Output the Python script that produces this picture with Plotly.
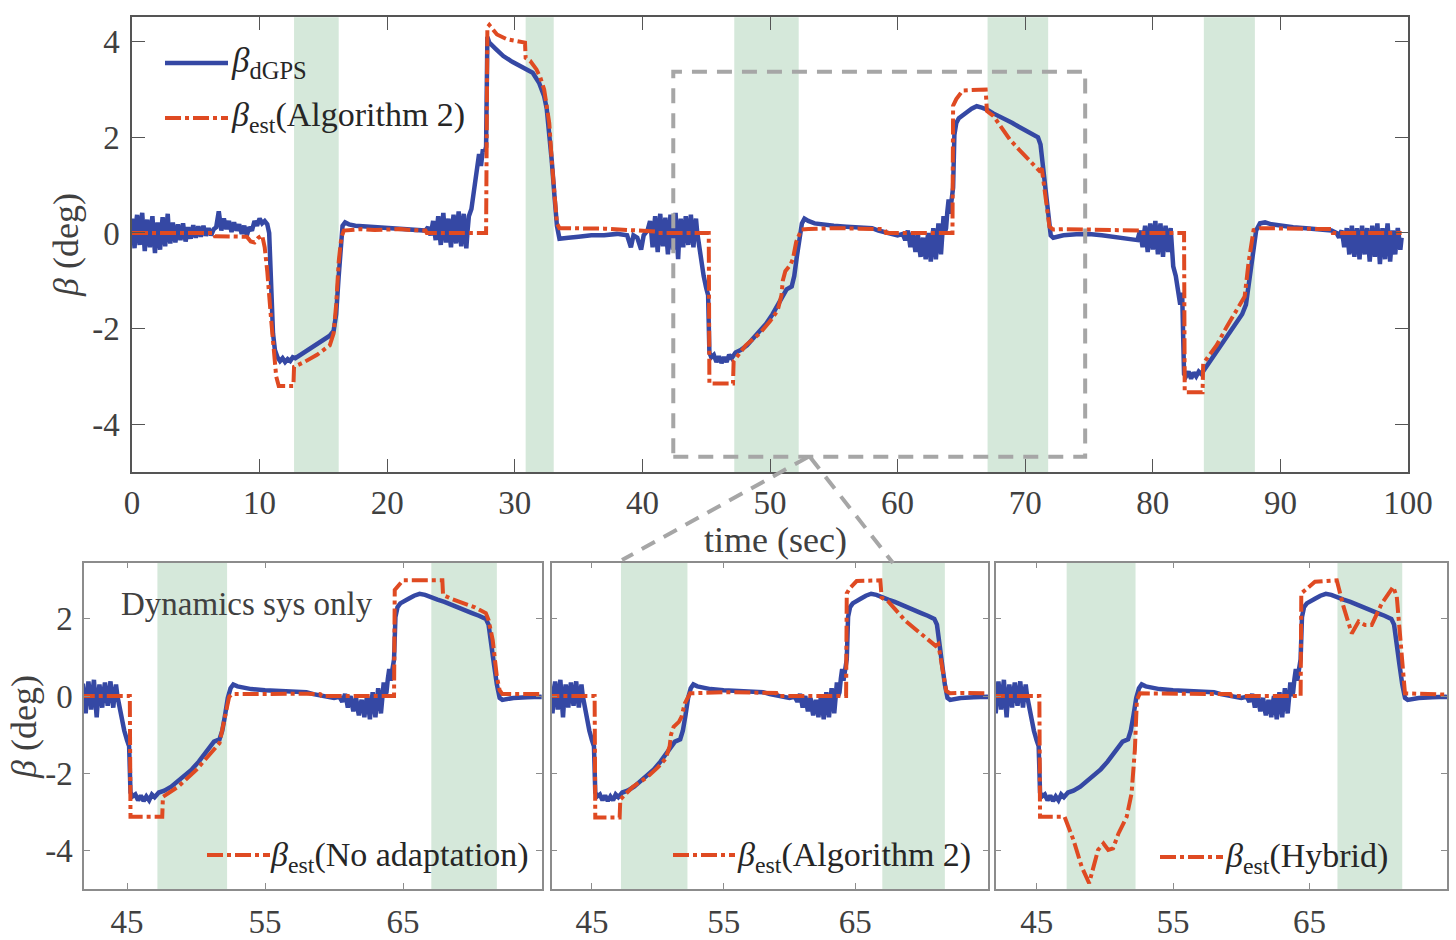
import plotly.graph_objects as go

# ---------------- data ----------------
# side-slip angle from dGPS (time [s], beta [deg])
beta_dgps = [
    (0.0, 0.30), (0.1, -0.12), (0.2, -0.32), (0.3, 0.15), (0.4, 0.38), (0.5, -0.05), (0.6, -0.25), (0.7, 0.2),
    (0.8, 0.42), (0.9, 0.0), (1.0, -0.38), (1.1, 0.05), (1.2, 0.28), (1.3, -0.1), (1.4, -0.30), (1.5, 0.1),
    (1.6, 0.35), (1.7, -0.05), (1.8, -0.42), (1.9, 0.0), (2.0, 0.22), (2.1, -0.1), (2.2, -0.35), (2.3, 0.05),
    (2.4, 0.33), (2.5, 0.0), (2.6, -0.28), (2.7, 0.1), (2.8, 0.40), (2.9, -0.05), (3.0, -0.22),
    (3.2, 0.22), (3.4, -0.20), (3.6, 0.18), (3.8, -0.15), (4.0, 0.20), (4.2, -0.18), (4.4, 0.12), (4.6, -0.12),
    (4.8, 0.16), (5.0, -0.10), (5.2, 0.14), (5.4, -0.08), (5.6, 0.15), (5.8, -0.06), (6.0, 0.10), (6.2, -0.05),
    (6.4, 0.08), (6.6, 0.12), (6.8, 0.45), (7.0, 0.05), (7.2, 0.30), (7.4, 0.08), (7.6, 0.25), (7.8, 0.02),
    (8.0, 0.22), (8.2, 0.05), (8.4, 0.18), (8.6, -0.02), (8.8, 0.15), (9.0, -0.05), (9.2, 0.12), (9.4, 0.05),
    (9.6, 0.25), (9.8, 0.15), (10.0, 0.30), (10.2, 0.20), (10.4, 0.25), (10.6, 0.18),
    (10.75, 0.0), (10.9, -1.2), (11.05, -2.1), (11.2, -2.45), (11.4, -2.6), (11.6, -2.68), (11.8, -2.62),
    (12.0, -2.7), (12.2, -2.64), (12.4, -2.68), (12.6, -2.6), (12.8, -2.62), (13.2, -2.55), (13.6, -2.5),
    (14.0, -2.42), (14.5, -2.35), (15.0, -2.25), (15.5, -2.15), (15.8, -2.05), (16.0, -1.7), (16.2, -0.9),
    (16.35, -0.2), (16.5, 0.15), (16.7, 0.22), (17.0, 0.18), (17.5, 0.15), (18.0, 0.14), (19.0, 0.12),
    (20.0, 0.10), (21.0, 0.10), (22.0, 0.08), (23.0, 0.05),
    (23.2, 0.12), (23.3, 0.0), (23.4, -0.05), (23.5, 0.1), (23.6, 0.25), (23.7, 0.05), (23.8, -0.15),
    (23.9, 0.1), (24.0, 0.35), (24.1, 0.0), (24.2, -0.25), (24.3, 0.15), (24.4, 0.42), (24.5, 0.05),
    (24.6, -0.20), (24.7, 0.1), (24.8, 0.30), (24.9, -0.05), (25.0, -0.30), (25.1, 0.1), (25.2, 0.38),
    (25.3, 0.0), (25.4, -0.22), (25.5, 0.15), (25.6, 0.45), (25.7, 0.05), (25.8, -0.28), (25.9, 0.1),
    (26.0, 0.40), (26.1, 0.0), (26.2, -0.32), (26.3, 0.05), (26.4, 0.35),
    (26.6, 0.5), (26.8, 0.9), (27.0, 1.2), (27.2, 1.65), (27.35, 1.4), (27.5, 1.75), (27.65, 1.7), (27.75, 1.8),
    (27.85, 4.1), (28.0, 3.98), (28.5, 3.85), (29.1, 3.7), (29.8, 3.58), (30.4, 3.49), (31.0, 3.42), (31.4, 3.35),
    (31.9, 3.14), (32.3, 2.86), (32.5, 2.6), (32.7, 2.1), (32.9, 1.5), (33.1, 0.8), (33.3, 0.15), (33.5, -0.12),
    (33.8, -0.12), (34.2, -0.1), (35.0, -0.08), (36.0, -0.05), (37.0, -0.05), (38.0, -0.02), (38.8, -0.05),
    (39.1, -0.3), (39.3, -0.05), (39.6, -0.1), (39.9, -0.35), (40.1, -0.05), (40.4, 0.05),
    (40.6, 0.25), (40.7, 0.0), (40.8, -0.30), (40.9, 0.05), (41.0, 0.35), (41.1, -0.05), (41.2, -0.40),
    (41.3, 0.1), (41.4, 0.40), (41.5, 0.0), (41.6, -0.28), (41.7, 0.05), (41.8, 0.32), (41.9, -0.1),
    (42.0, -0.45), (42.1, 0.0), (42.2, 0.38), (42.3, 0.05), (42.4, -0.35), (42.5, 0.1), (42.6, 0.42),
    (42.7, -0.1), (42.8, -0.55), (42.9, 0.0), (43.0, 0.30), (43.1, 0.0), (43.2, -0.30), (43.3, 0.1),
    (43.4, 0.35), (43.5, 0.0), (43.6, -0.25), (43.7, 0.1), (43.8, 0.38), (43.9, 0.0), (44.0, -0.30),
    (44.1, 0.05), (44.2, 0.30), (44.3, 0.0), (44.4, -0.20),
    (44.6, -0.5), (44.8, -0.9), (45.0, -1.15), (45.15, -1.3), (45.25, -2.5), (45.4, -2.6), (45.6, -2.55),
    (45.8, -2.7), (46.0, -2.58), (46.2, -2.72), (46.4, -2.6), (46.6, -2.7), (46.8, -2.55), (47.0, -2.62),
    (47.3, -2.5), (47.7, -2.45), (48.2, -2.35), (48.7, -2.2), (49.2, -2.05), (49.7, -1.9), (50.2, -1.7),
    (50.7, -1.45), (51.0, -1.3), (51.3, -1.18), (51.7, -1.12), (51.9, -0.9), (52.1, -0.5), (52.3, -0.05),
    (52.5, 0.2), (52.7, 0.3), (53.0, 0.25), (53.5, 0.2), (54.0, 0.18), (55.0, 0.15), (56.0, 0.13), (57.0, 0.12),
    (58.0, 0.10), (58.5, 0.05), (59.0, 0.02), (59.5, 0.0), (60.0, -0.05), (60.4, -0.02),
    (60.6, -0.15), (60.7, -0.05), (60.8, 0.05), (60.9, -0.1), (61.0, -0.3), (61.1, -0.1), (61.2, 0.0),
    (61.3, -0.2), (61.4, -0.4), (61.5, -0.15), (61.6, -0.05), (61.7, -0.3), (61.8, -0.5), (61.9, -0.25),
    (62.0, -0.1), (62.1, -0.3), (62.2, -0.55), (62.3, -0.2), (62.4, 0.0), (62.5, -0.3), (62.6, -0.6),
    (62.7, -0.2), (62.8, 0.1), (62.9, -0.25), (63.0, -0.55), (63.1, -0.15), (63.2, 0.2), (63.3, -0.1),
    (63.4, -0.45), (63.5, -0.05), (63.6, 0.35), (63.7, 0.0), (63.8, 0.1), (63.9, 0.45), (64.0, 0.7),
    (64.1, 0.4), (64.2, 0.6), (64.35, 0.95), (64.45, 2.05),
    (64.6, 2.3), (64.8, 2.4), (65.0, 2.45), (65.4, 2.52), (65.8, 2.6), (66.2, 2.65), (66.6, 2.62), (67.0, 2.58),
    (67.5, 2.5), (68.0, 2.44), (68.5, 2.36), (69.0, 2.3), (69.5, 2.22), (70.0, 2.15), (70.5, 2.08), (71.0, 2.0),
    (71.2, 1.85), (71.4, 1.4), (71.6, 0.8), (71.8, 0.3), (72.0, -0.05), (72.2, -0.1), (72.5, -0.08),
    (73.0, -0.05), (74.0, -0.03), (75.0, -0.02), (76.0, -0.05), (77.0, -0.08), (78.0, -0.12), (78.8, -0.15),
    (79.0, 0.05), (79.1, -0.1), (79.2, -0.30), (79.3, -0.05), (79.4, 0.15), (79.5, -0.1), (79.6, -0.40),
    (79.7, -0.1), (79.8, 0.20), (79.9, -0.05), (80.0, -0.35), (80.1, -0.05), (80.2, 0.25), (80.3, -0.1),
    (80.4, -0.45), (80.5, -0.1), (80.6, 0.20), (80.7, -0.15), (80.8, -0.50), (80.9, -0.1), (81.0, 0.15),
    (81.1, -0.1), (81.2, -0.40), (81.3, -0.1), (81.4, 0.10), (81.5, -0.3), (81.6, -0.7),
    (81.8, -0.9), (82.0, -1.2), (82.15, -1.5), (82.3, -1.25), (82.45, -2.95), (82.6, -3.0), (82.8, -2.9),
    (83.0, -3.05), (83.2, -2.92), (83.4, -3.0), (83.6, -2.9), (83.8, -2.95), (84.0, -2.87), (84.5, -2.7),
    (85.0, -2.5), (85.5, -2.3), (86.0, -2.1), (86.5, -1.9), (87.0, -1.7), (87.3, -1.5), (87.6, -0.95),
    (87.85, -0.35), (88.1, 0.05), (88.4, 0.2), (88.8, 0.22), (89.3, 0.18), (90.0, 0.15), (91.0, 0.12),
    (92.0, 0.10), (93.0, 0.08), (94.0, 0.05), (94.4, 0.0),
    (94.6, -0.10), (94.7, 0.0), (94.8, 0.05), (94.9, -0.1), (95.0, -0.30), (95.1, -0.1), (95.2, 0.10),
    (95.3, -0.15), (95.4, -0.45), (95.5, -0.1), (95.6, 0.15), (95.7, -0.2), (95.8, -0.50), (95.9, -0.15),
    (96.0, 0.10), (96.1, -0.2), (96.2, -0.55), (96.3, -0.15), (96.4, 0.15), (96.5, -0.15), (96.6, -0.45),
    (96.7, -0.1), (96.8, 0.10), (96.9, -0.25), (97.0, -0.60), (97.1, -0.2), (97.2, 0.15), (97.3, -0.15),
    (97.4, -0.50), (97.5, -0.1), (97.6, 0.20), (97.7, -0.25), (97.8, -0.65), (97.9, -0.2), (98.0, 0.10),
    (98.1, -0.2), (98.2, -0.55), (98.3, -0.1), (98.4, 0.20), (98.5, -0.2), (98.6, -0.60), (98.7, -0.25),
    (98.8, 0.05), (98.9, -0.15), (99.0, -0.45), (99.1, -0.1), (99.2, 0.10), (99.3, -0.1), (99.4, -0.35),
    (99.5, -0.10),
]

# estimate, Algorithm 2
beta_alg2 = [
    (0.0, 0.0), (6.4, 0.0), (6.5, -0.07), (9.0, -0.08), (9.3, -0.18), (9.6, -0.2), (9.9, -0.1), (10.2, -0.05),
    (10.4, -0.3), (10.6, -0.8), (10.9, -1.8), (11.1, -2.4), (11.3, -3.0), (11.5, -3.2), (12.65, -3.2),
    (12.7, -2.8), (13.5, -2.7), (14.5, -2.55), (15.5, -2.35), (15.8, -2.1), (16.0, -1.5), (16.2, -0.6),
    (16.4, -0.1), (16.6, 0.05), (17.0, 0.06), (18.0, 0.08), (19.0, 0.06), (20.0, 0.07), (21.0, 0.08),
    (22.0, 0.06), (23.0, 0.05), (23.1, 0.0), (27.75, 0.0), (27.85, 4.3), (28.0, 4.35), (28.6, 4.15),
    (29.4, 4.05), (30.0, 4.02), (30.8, 3.98), (30.85, 3.66), (31.2, 3.6), (31.7, 3.42), (32.0, 3.25),
    (32.3, 3.0), (32.5, 2.7), (32.7, 2.3), (32.9, 1.5), (33.1, 0.8), (33.3, 0.2), (33.5, 0.1), (35.0, 0.1),
    (37.0, 0.09), (39.0, 0.06), (41.0, 0.03), (41.2, 0.0), (45.2, 0.0), (45.25, -3.15), (47.1, -3.15),
    (47.15, -2.68), (48.1, -2.35), (49.2, -2.1), (50.0, -1.85), (50.6, -1.62), (50.9, -1.3), (51.0, -1.0),
    (51.2, -0.8), (51.6, -0.67), (51.8, -0.54), (52.05, -0.19), (52.45, 0.07), (53.0, 0.08), (55.0, 0.1),
    (57.0, 0.09), (59.0, 0.08), (59.1, 0.0), (64.3, 0.0), (64.35, 2.66), (64.6, 2.8), (65.1, 2.98),
    (66.9, 3.0), (67.0, 2.55), (67.5, 2.45), (68.0, 2.26), (68.8, 1.95), (69.5, 1.75), (70.2, 1.55),
    (70.6, 1.46), (71.1, 1.3), (71.3, 1.35), (71.6, 0.76), (71.9, 0.13), (72.2, 0.07), (73.0, 0.08),
    (75.0, 0.07), (77.0, 0.06), (79.0, 0.05), (79.1, 0.0), (82.45, 0.0), (82.5, -3.33), (83.9, -3.33),
    (83.95, -2.73), (85.0, -2.35), (85.8, -1.96), (86.5, -1.65), (87.2, -1.33), (87.5, -0.63), (87.9, 0.06),
    (88.4, 0.1), (90.0, 0.1), (92.0, 0.09), (94.0, 0.08), (94.1, 0.0), (99.5, 0.0),
]

# estimate, no adaptation (zoomed window only)
beta_noadapt = [
    (41.5, 0.0), (45.2, 0.0), (45.25, -3.13), (47.55, -3.13), (47.6, -2.61), (48.7, -2.35), (50.0, -1.92),
    (51.3, -1.4), (51.7, -1.22), (52.0, -0.7), (52.4, -0.02), (52.6, 0.05), (55.0, 0.06), (58.0, 0.06),
    (59.0, 0.05), (59.1, 0.0), (64.35, 0.0), (64.4, 2.75), (65.0, 3.0), (67.85, 3.0), (67.9, 2.62),
    (68.5, 2.52), (69.4, 2.4), (70.2, 2.3), (71.0, 2.15), (71.2, 1.97), (71.5, 1.45), (71.8, 0.5),
    (72.0, 0.15), (72.2, 0.05), (75.5, 0.05),
]

# estimate, hybrid (zoomed window only)
beta_hybrid = [
    (41.5, 0.0), (45.2, 0.0), (45.25, -3.13), (47.05, -3.13), (47.7, -3.73), (48.3, -4.42), (48.85, -4.85),
    (49.5, -3.99), (49.9, -3.82), (50.25, -3.99), (50.6, -3.95), (51.0, -3.56), (51.6, -3.13), (51.96, -2.52),
    (52.2, -1.4), (52.35, -0.1), (52.57, 0.07), (55.0, 0.06), (59.2, 0.05), (59.3, 0.0), (64.35, 0.0),
    (64.4, 2.66), (65.4, 2.96), (67.0, 3.0), (67.5, 2.31), (68.1, 1.62), (68.6, 1.93), (69.07, 1.84),
    (69.56, 1.84), (70.3, 2.4), (71.14, 2.83), (71.4, 2.57), (71.76, 1.19), (72.0, 0.07), (75.5, 0.03),
]

# shaded intervals (time, s)
shaded_intervals = [(12.7, 16.2), (30.85, 33.05), (47.2, 52.25), (67.05, 71.8), (84.0, 88.0)]
# zoom window drawn on the top plot (time range, beta range)
zoom_window = (42.42, 74.7, -4.68, 3.37)

top_xticks = [0, 10, 20, 30, 40, 50, 60, 70, 80, 90, 100]
top_yticks = [-4, -2, 0, 2, 4]
bot_xticks = [45, 55, 65]
bot_yticks = [-4, -2, 0, 2]

# ---------------- styles ----------------
W, H = 1456, 940
FONT = "Liberation Serif"
TXT = "#404040"
BLUE = "#3548A4"
ORANGE = "#DF4A22"
GREEN = "#D5E8DA"
GRAY = "#A6A6A6"
DASHDOT = "16px,4px,4px,4px"


def px(x):
    return x / W


def py(y):
    return 1 - y / H


def unzip(pairs):
    return [p[0] for p in pairs], [p[1] for p in pairs]


t_d, b_d = unzip(beta_dgps)
t_a, b_a = unzip(beta_alg2)
t_n, b_n = unzip(beta_noadapt)
t_h, b_h = unzip(beta_hybrid)

fig = go.Figure()

panels = [
    ("x", "y", t_a, b_a, "β_est (Algorithm 2)"),
    ("x2", "y2", t_n, b_n, "β_est (No adaptation)"),
    ("x3", "y3", t_a, b_a, "β_est (Algorithm 2)"),
    ("x4", "y4", t_h, b_h, "β_est (Hybrid)"),
]
for xa, ya, te, be, name in panels:
    fig.add_trace(go.Scatter(x=t_d, y=b_d, xaxis=xa, yaxis=ya, mode="lines", name="β_dGPS",
                             line=dict(color=BLUE, width=4.5), showlegend=False))
    fig.add_trace(go.Scatter(x=te, y=be, xaxis=xa, yaxis=ya, mode="lines", name=name,
                             line=dict(color=ORANGE, width=4, dash=DASHDOT), showlegend=False))


def axis_common(ticklen, linecolor):
    return dict(showline=True, linecolor=linecolor, linewidth=1.5, mirror="ticks", ticks="inside",
                ticklen=ticklen, tickwidth=1.2, tickcolor=linecolor, showgrid=False, zeroline=False,
                automargin=False, tickfont=dict(family=FONT, size=33, color=TXT))


top_dom_x = [px(132), px(1408)]
top_dom_y = [py(472), py(17.3)]
bot_dom_y = [py(889), py(562.5)]
bot_dom_x = [[px(84), px(541.7)], [px(551.7), px(988.3)], [px(995.7), px(1447)]]
bot_ranges = [[41.88, 75.05], [41.94, 75.1], [42.0, 75.08]]

layout = dict(
    template="none",
    width=W, height=H, autosize=False, margin=dict(l=0, r=0, t=0, b=0, pad=0, autoexpand=False),
    paper_bgcolor="white", plot_bgcolor="white", showlegend=False,
    xaxis=dict(domain=top_dom_x, anchor="y", range=[0, 100], tickvals=top_xticks,
               ticktext=[str(v) for v in top_xticks], ticklabelstandoff=1, **axis_common(13, "#555555")),
    yaxis=dict(domain=top_dom_y, anchor="x", range=[-5, 4.51], tickvals=top_yticks,
               ticktext=[str(v) for v in top_yticks], ticklabelstandoff=4, **axis_common(13, "#555555")),
)
for i in range(3):
    xn = "xaxis%d" % (i + 2)
    yn = "yaxis%d" % (i + 2)
    layout[xn] = dict(domain=bot_dom_x[i], anchor="y%d" % (i + 2), range=bot_ranges[i], tickvals=bot_xticks,
                      ticktext=[str(v) for v in bot_xticks], ticklabelstandoff=3, **axis_common(6, "#8c8c8c"))
    layout[yn] = dict(domain=bot_dom_y, anchor="x%d" % (i + 2), range=[-5, 3.46], tickvals=bot_yticks,
                      ticktext=[str(v) for v in bot_yticks], showticklabels=(i == 0), ticklabelstandoff=3,
                      **axis_common(6, "#8c8c8c"))
fig.update_layout(**layout)

shapes = []
# shaded bands
for a, b in shaded_intervals:
    shapes.append(dict(type="rect", xref="x", yref="y domain", x0=a, x1=b, y0=0, y1=1,
                       fillcolor=GREEN, line=dict(width=0), layer="below"))
    for i in range(3):
        if b > bot_ranges[i][0] and a < bot_ranges[i][1]:
            shapes.append(dict(type="rect", xref="x%d" % (i + 2), yref="y%d domain" % (i + 2), x0=a, x1=b,
                               y0=0, y1=1, fillcolor=GREEN, line=dict(width=0), layer="below"))
# zoom window + connectors
zx0, zx1, zy0, zy1 = zoom_window
shapes.append(dict(type="rect", xref="x", yref="y", x0=zx0, x1=zx1, y0=zy0, y1=zy1,
                   line=dict(color=GRAY, width=4, dash="15px,10px"), fillcolor="rgba(0,0,0,0)"))
shapes.append(dict(type="line", xref="paper", yref="paper", x0=px(808), y0=py(457), x1=px(622), y1=py(560),
                   line=dict(color=GRAY, width=4, dash="15px,10px")))
shapes.append(dict(type="line", xref="paper", yref="paper", x0=px(810), y0=py(457), x1=px(893), y1=py(563),
                   line=dict(color=GRAY, width=4, dash="15px,10px")))
# legend samples
shapes.append(dict(type="line", xref="paper", yref="paper", x0=px(165), x1=px(228), y0=py(63), y1=py(63),
                   line=dict(color=BLUE, width=4.5)))
shapes.append(dict(type="line", xref="paper", yref="paper", x0=px(165), x1=px(228), y0=py(118), y1=py(118),
                   line=dict(color=ORANGE, width=4, dash=DASHDOT)))
for x0, x1, yy in [(207, 270, 855), (673, 735, 855), (1160, 1223, 857)]:
    shapes.append(dict(type="line", xref="paper", yref="paper", x0=px(x0), x1=px(x1), y0=py(yy), y1=py(yy),
                       line=dict(color=ORANGE, width=4, dash=DASHDOT)))
fig.update_layout(shapes=shapes)

ann = []


def text(x, y, s, size=33, xanchor="left", angle=0, color="#262626"):
    ann.append(dict(xref="paper", yref="paper", x=px(x), y=py(y), text=s, showarrow=False, xanchor=xanchor,
                    yanchor="middle", textangle=angle, font=dict(family=FONT, size=size, color=color)))


text(229, 63, "<i>β</i><sub>dGPS</sub>", size=35)
text(229, 117, "<i>β</i><sub>est</sub>(Algorithm 2)", size=34)
text(268, 857, "<i>β</i><sub>est</sub>(No adaptation)", size=34)
text(735, 857, "<i>β</i><sub>est</sub>(Algorithm 2)", size=34)
text(1223, 858, "<i>β</i><sub>est</sub>(Hybrid)", size=34)
text(247, 604, "Dynamics sys only", size=33, xanchor="center", color=TXT)
text(775, 540, "time (sec)", size=36, xanchor="center", color=TXT)
text(66, 245, "<i>β</i> (deg)", size=36, xanchor="center", angle=-90, color=TXT)
text(24, 727, "<i>β</i> (deg)", size=36, xanchor="center", angle=-90, color=TXT)
fig.update_layout(annotations=ann)

fig.write_html(
    "out.html",
    config={"responsive": False},
    post_script="document.body.style.margin='0';document.body.style.overflow='hidden';",
)
